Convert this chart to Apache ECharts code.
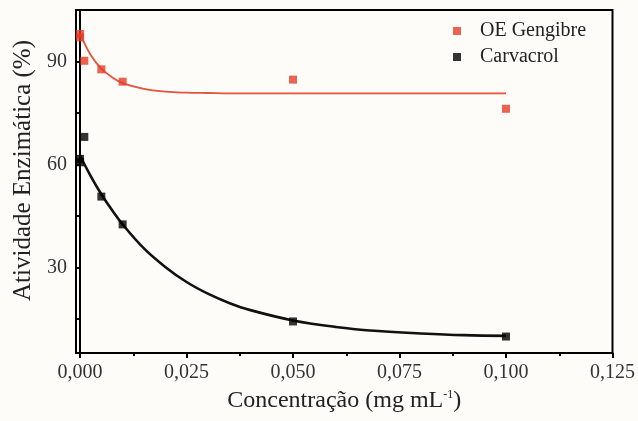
<!DOCTYPE html>
<html><head><meta charset="utf-8">
<script src="https://cdn.jsdelivr.net/npm/echarts@6/dist/echarts.min.js"></script>
<style>html,body{margin:0;padding:0;background:#fdfcf9}#chart{width:638px;height:421px}</style>
</head><body><div id="chart"></div>
<script>
// Measured enzyme activity (%) versus concentration (mg/mL)
const seriesNames = ['OE Gengibre', 'Carvacrol'];
const gingerConc = [0, 0, 0.001, 0.005, 0.01, 0.05, 0.1];
const gingerActivity = [98.0, 97.0, 90.2, 87.7, 84.1, 84.7, 76.2];
const carvacrolConc = [0, 0, 0.001, 0.005, 0.01, 0.05, 0.1];
const carvacrolActivity = [61.6, 60.6, 68.0, 50.6, 42.5, 14.2, 9.8];
// Fitted decay curves
const fitConc = [0, 0.0025, 0.005, 0.0075, 0.01, 0.015, 0.02, 0.025, 0.03, 0.035, 0.04, 0.05, 0.06, 0.07, 0.08, 0.09, 0.1];
const gingerFit = [98.1, 91.9, 87.9, 85.4, 83.7, 82.0, 81.2, 80.9, 80.8, 80.7, 80.7, 80.7, 80.7, 80.7, 80.7, 80.7, 80.7];
const carvacrolFit = [62.5, 56.6, 51.3, 46.7, 42.5, 35.5, 30.1, 25.7, 22.3, 19.6, 17.5, 14.5, 12.6, 11.4, 10.7, 10.2, 10.0];
// Axis ticks
const xTicks = [0, 0.025, 0.05, 0.075, 0.1, 0.125];
const xMinorTicks = [0.0125, 0.0375, 0.0625, 0.0875, 0.1125];
const yTicks = [30, 60, 90];
const yMinorTicks = [15, 45, 75];

const RED = '#e63b27', RED_LINE = '#e4533d', BLACK = '#000000';
const FONT = '"Liberation Serif", "Times New Roman", serif';
const zip = (xs, ys) => xs.map((x, i) => [x, ys[i]]);

const X_RANGE = { min: -0.00095, max: 0.125 };
const Y_RANGE = { min: 5, max: 105 };

const chart = echarts.init(document.getElementById('chart'), null, { renderer: 'canvas' });
chart.setOption({
  backgroundColor: '#fdfcf9',
  animation: false,
  grid: { left: 76, right: 24, top: 10, bottom: 68, show: true, borderColor: '#000', borderWidth: 2, backgroundColor: 'transparent' },
  legend: {
    data: seriesNames,
    orient: 'vertical',
    left: 448, top: 16,
    icon: 'rect', itemWidth: 8, itemHeight: 8, itemGap: 6,
    textStyle: { fontFamily: FONT, fontSize: 20, color: '#222', padding: [0, 0, 0, 14] }
  },
  xAxis: [
    {
      type: 'value', position: 'bottom', ...X_RANGE,
      name: 'Concentração (mg mL{sup|-1})', nameLocation: 'middle', nameGap: 36,
      nameTextStyle: { fontFamily: FONT, fontSize: 24, color: '#222',
        rich: { sup: { fontFamily: FONT, fontSize: 12, color: '#222', verticalAlign: 'top', padding: [0, 0, 10, 0] } } },
      axisLine: { lineStyle: { color: '#000', width: 2 } },
      axisTick: { customValues: xTicks, length: 5, lineStyle: { color: '#000', width: 2 } },
      axisLabel: { customValues: xTicks, margin: 10, fontFamily: FONT, fontSize: 20, color: '#333',
        formatter: v => v.toFixed(3).replace('.', ',') },
      splitLine: { show: false }
    },
    {
      type: 'value', position: 'bottom', ...X_RANGE,
      axisLine: { show: false },
      axisTick: { customValues: xMinorTicks, length: 3, lineStyle: { color: '#000', width: 2 } },
      axisLabel: { show: false }, splitLine: { show: false }
    }
  ],
  yAxis: [
    {
      type: 'value', position: 'left', ...Y_RANGE,
      name: 'Atividade Enzimática (%)', nameLocation: 'middle', nameGap: 37, nameRotate: 90,
      nameTextStyle: { fontFamily: FONT, fontSize: 25, color: '#222', padding: [0, 0, 0, 22] },
      axisLine: { lineStyle: { color: '#000', width: 2 } },
      axisTick: { customValues: yTicks, length: 5, lineStyle: { color: '#000', width: 2 } },
      axisLabel: { customValues: yTicks, margin: 9, fontFamily: FONT, fontSize: 20, color: '#333' },
      splitLine: { show: false }
    },
    {
      type: 'value', position: 'left', ...Y_RANGE,
      axisLine: { show: false },
      axisTick: { customValues: yMinorTicks, length: 3, lineStyle: { color: '#000', width: 2 } },
      axisLabel: { show: false }, splitLine: { show: false }
    }
  ],
  series: [
    { name: 'OE Gengibre ajuste', type: 'line', data: zip(fitConc, gingerFit), smooth: 0.4, showSymbol: false,
      lineStyle: { color: RED_LINE, width: 1.8 }, z: 2 },
    { name: 'Carvacrol ajuste', type: 'line', data: zip(fitConc, carvacrolFit), smooth: 0.4, showSymbol: false,
      lineStyle: { color: '#111111', width: 2.6 }, z: 2 },
    { name: seriesNames[0], type: 'scatter', data: zip(gingerConc, gingerActivity), symbol: 'rect', symbolSize: 8,
      itemStyle: { color: RED }, z: 3 },
    { name: seriesNames[1], type: 'scatter', data: zip(carvacrolConc, carvacrolActivity), symbol: 'rect', symbolSize: 8,
      itemStyle: { color: BLACK }, z: 3 }
  ]
});
</script>
</body></html>
